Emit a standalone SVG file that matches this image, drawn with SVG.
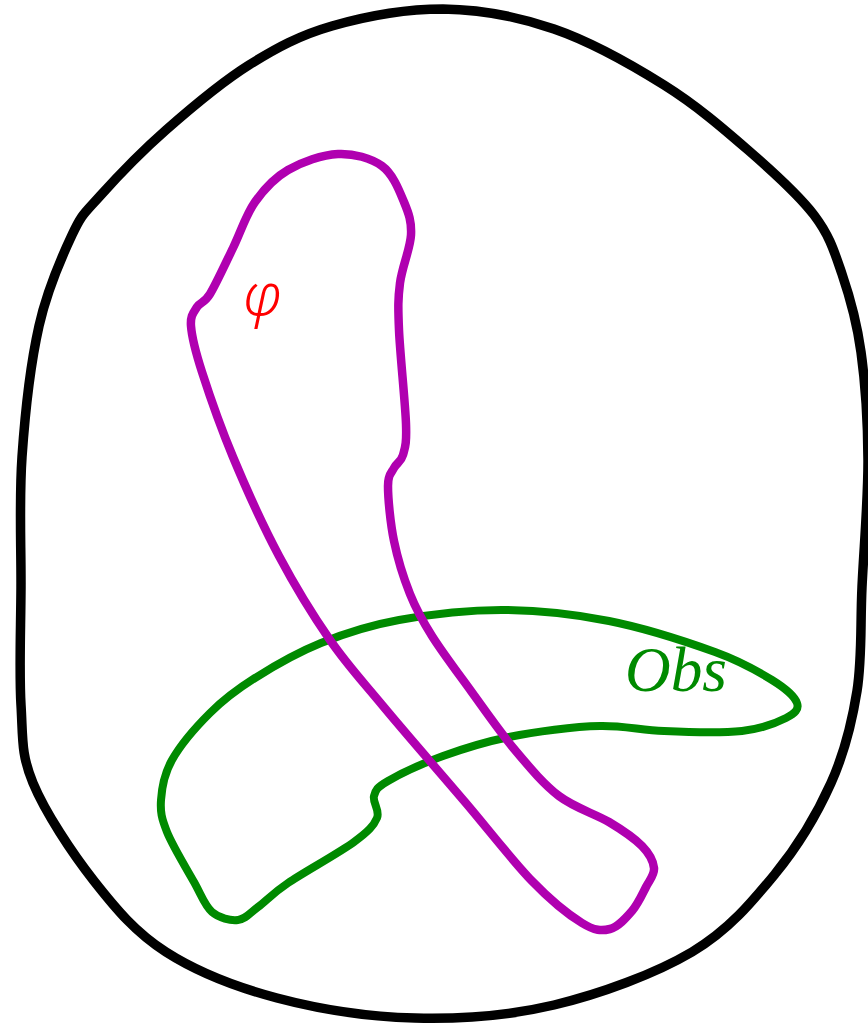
<svg xmlns="http://www.w3.org/2000/svg" width="868" height="1023" viewBox="0 0 868 1023">
<style>
.c{fill:none;stroke-linejoin:round;stroke-linecap:round}
.outer{stroke:#000;stroke-width:9.5}
.obs{stroke:#008a00;stroke-width:8}
.phi{stroke:#b000b0;stroke-width:8.5}
.lbl{font-family:"Liberation Serif",serif;font-style:italic}
.greek{font-family:"Noto Sans","DejaVu Sans",sans-serif;font-style:italic;font-weight:300}
</style>
<rect width="868" height="1023" fill="#fff"/>
<g id="connectors">
<g id="outer">
<path class="c outer" d="M443,9 C480,9.5 517.2,16.3 554,29 C590.8,41.7 631.7,64.8 664,85 C696.3,105.2 723,128.3 748,150 C773,171.7 798.3,194.3 814,215 C829.7,235.7 834.2,251.2 842,274 C849.8,296.8 856.7,321 861,352 C865.3,383 867.8,420.8 868,460 C868.2,499.2 863.8,548.5 862,587 C860.2,625.5 862.2,658.3 857,691 C851.8,723.7 844.7,752.5 831,783 C817.3,813.5 798.2,845.8 775,874 C751.8,902.2 728.8,930.2 692,952 C655.2,973.8 600.2,994 554,1005 C507.8,1016 461.2,1019.2 415,1018 C368.8,1016.8 318.5,1009 277,998 C235.5,987 196.5,971.5 166,952 C135.5,932.5 116.2,909.2 94,881 C71.8,852.8 45.2,812.3 33,783 C20.8,753.7 23,737.7 21,705 C19,672.3 20.8,628.3 21,587 C21.2,545.7 19,500.5 22,457 C25,413.5 30.7,363 39,326 C47.3,289 61.8,256.7 72,235 C82.2,213.3 84.3,213.5 100,196 C115.7,178.5 141.2,151.8 166,130 C190.8,108.2 221.3,82.3 249,65 C276.7,47.7 299.7,35.3 332,26 C364.3,16.7 406,9 443,9 Z"/>
</g>
<g id="obs">
<path class="c obs" d="M504,610 C539,610.2 573.8,614 609,621 C644.2,628 687.8,642.2 715,652 C742.2,661.8 758.3,671.5 772,680 C785.7,688.5 794.7,696.7 797,703 C799.3,709.3 795.2,713.3 786,718 C776.8,722.7 762.3,728.8 742,731 C721.7,733.2 688,732.2 664,731 C640,729.8 622,725.5 600,726 C574,726.5 534.8,731.7 509,737 C483.2,742.3 463.2,748.7 443,756 C422.8,763.3 399.5,774.3 388,781 C376.5,787.7 375.8,789.8 374,796 C372.2,802.2 380.3,810.3 377,818 C373.7,825.7 368.8,831.2 354,842 C339.2,852.8 304,872.2 288,883 C272,893.8 266.3,900.8 258,907 C249.7,913.2 245.7,919.2 238,920 C230.3,920.8 219.3,918.3 212,912 C204.7,905.7 201.5,895.3 194,882 C186.5,868.7 172.5,845.7 167,832 C161.5,818.3 160.2,812 161,800 C161.8,788 163.8,774.5 172,760 C180.2,745.5 196.2,726.7 210,713 C223.8,699.3 236.5,689.7 255,678 C273.5,666.3 297,652.7 321,643 C345,633.3 368.5,625.5 399,620 C429.5,614.5 469,609.8 504,610 Z"/>
<text class="lbl" x="625" y="691" font-size="64" fill="#008a00" textLength="102" lengthAdjust="spacingAndGlyphs">Obs</text>
</g>
<g id="phi">
<path class="c phi" d="M338,154 C353.7,153.3 371,158 382,166 C393,174 399.2,190.5 404,202 C408.8,213.5 411.7,221.5 411,235 C410.3,248.5 402,267.2 400,283 C398,298.8 398,306.5 399,330 C400,353.5 405.3,403.2 406,424 C406.7,444.8 405,447.7 403,455 C401,462.3 396.5,462.8 394,468 C391.5,473.2 388,473.8 388,486 C388,498.2 390.3,523 394,541 C397.7,559 403.7,578.2 410,594 C416.3,609.8 421.8,619.8 432,636 C442.2,652.2 457.2,672 471,691 C484.8,710 500.3,732.5 515,750 C529.7,767.5 543.3,784 559,796 C574.7,808 595.2,813.7 609,822 C622.8,830.3 634.5,838.3 642,846 C649.5,853.7 653.3,861.2 654,868 C654.7,874.8 649.7,879.8 646,887 C642.3,894.2 638,904 632,911 C626,918 618.3,927 610,929 C601.7,931 595,931 582,923 C569,915 551.5,901.2 532,881 C512.5,860.8 489.8,831.2 465,802 C440.2,772.8 405.5,733.2 383,706 C360.5,678.8 347.3,665 330,640 C312.7,615 295.2,586.5 279,556 C262.8,525.5 245.8,487.7 233,457 C220.2,426.3 209,393.8 202,372 C195,350.2 191.8,336.8 191,326 C190.2,315.2 193.8,312.3 197,307 C200.2,301.7 204,303.8 210,294 C216,284.2 225.5,263.3 233,248 C240.5,232.7 245.8,215 255,202 C264.2,189 274.2,178 288,170 C301.8,162 322.3,154.7 338,154 Z"/>
<text class="greek" x="243" y="315" font-size="58" fill="#ff0000">φ</text>
</g>
</g>
</svg>
